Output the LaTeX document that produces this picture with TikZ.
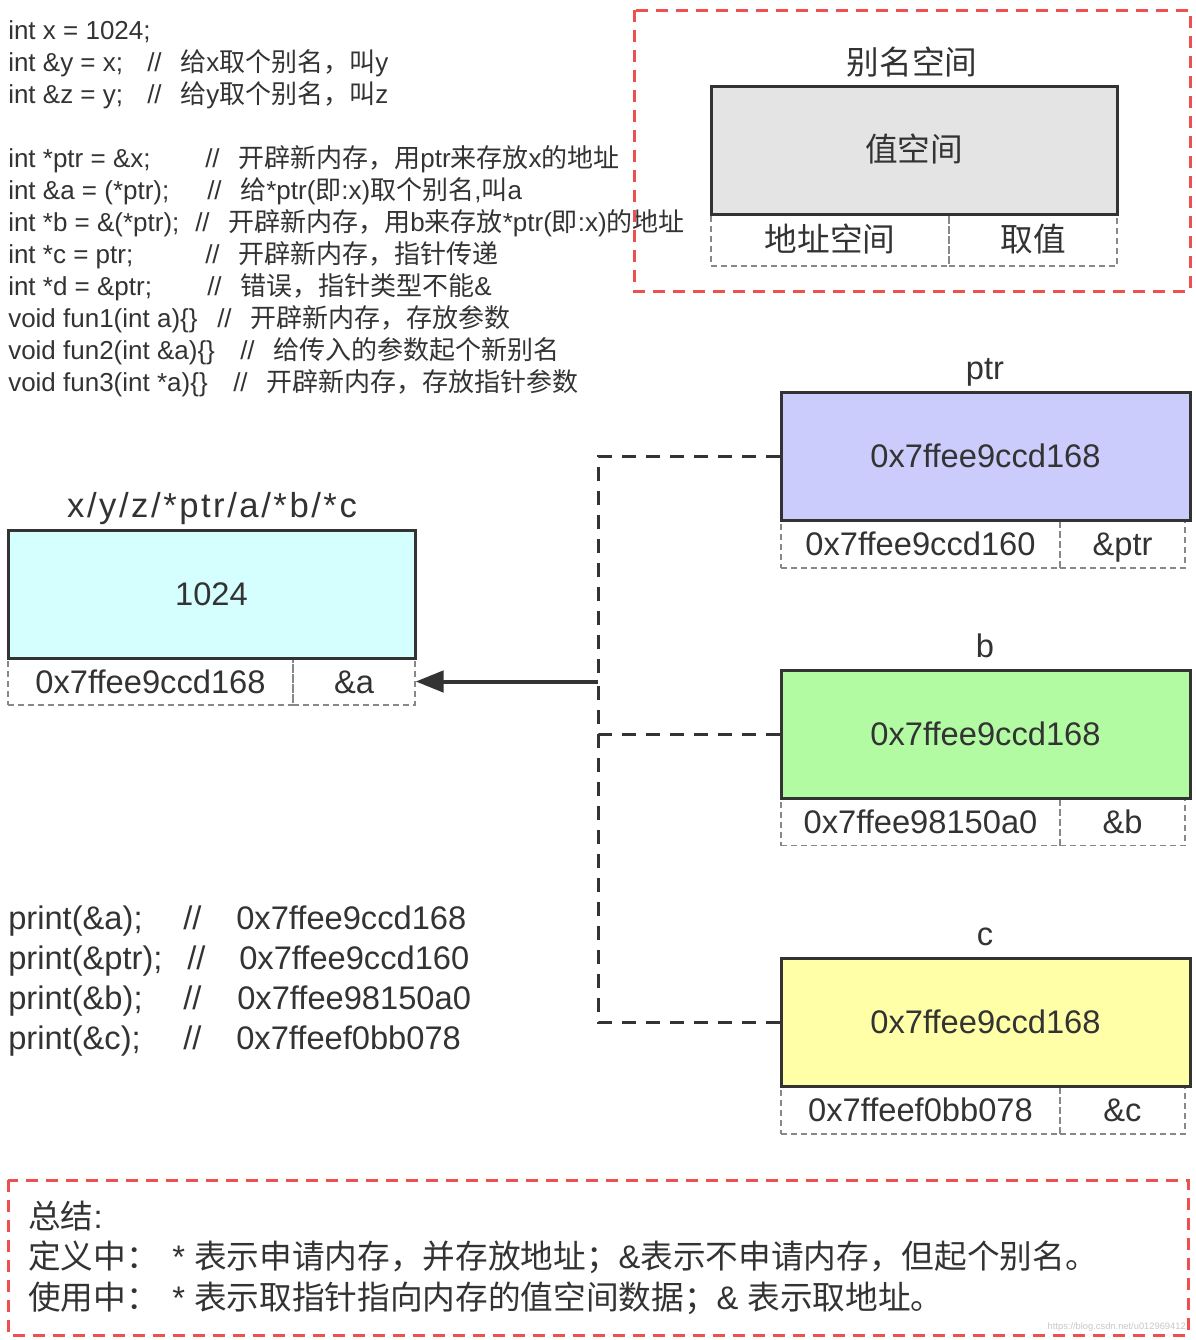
\documentclass[tikz,border=0pt]{standalone}
\usepackage{fontspec}
\setmainfont{Liberation Sans}
\newfontfamily\cjk{Noto Sans CJK SC}
\usetikzlibrary{arrows.meta}
\newcommand\cj[1]{{\cjk #1}}
\newcommand\lk{\kern1.9pt}
\definecolor{tc}{HTML}{333333}
\definecolor{redc}{HTML}{EE4F4F}
\definecolor{cellgray}{HTML}{888888}
\definecolor{graybox}{HTML}{E4E4E4}
\definecolor{cyanbox}{HTML}{D5FEFE}
\definecolor{lavbox}{HTML}{CCCCFC}
\definecolor{greenbox}{HTML}{B3FBA3}
\definecolor{yellowbox}{HTML}{FFFFA8}
\tikzset{
  txt/.style={inner sep=0pt, text=tc},
  code/.style={txt, anchor=base west, font=\fontsize{19.5}{22}\selectfont},
  big/.style={txt, font=\fontsize{24.5}{28}\selectfont},
  bigw/.style={big, anchor=base west},
  lbl/.style={big, anchor=base},
  valbox/.style={draw=tc, line width=2.25pt, inner sep=0pt, text=tc,
    font=\fontsize{24.5}{28}\selectfont, text height=17.6pt, text depth=0pt},
  cell/.style={draw=cellgray, line width=1.1pt, dash pattern=on 4.5pt off 3pt,
    inner sep=0pt, text=tc, font=\fontsize{24.5}{28}\selectfont,
    text height=17.6pt, text depth=0pt},
  reddash/.style={draw=redc, line width=2.25pt, dash pattern=on 9pt off 6pt},
  conn/.style={draw=tc, line width=2.25pt, dash pattern=on 10.5pt off 7.5pt},
  arr/.style={draw=tc, line width=3pt, -{Triangle[length=21pt,width=16pt]}},
}
\begin{document}
\begin{tikzpicture}[x=0.75pt, y=-0.75pt]
\useasboundingbox (0,0) rectangle (1196,1340);

% ---------- code lines ----------
\node[code] (c1) at (8,39) {int x = 1024;};
\node[code] (c2) at (8,71) {int \&y = x;};
\node[code] (m2) at (147,71) {//\hspace{14pt}\cj{给}x\cj{取个别名，叫}y};
\node[code] (c3) at (8,103) {int \&z = y;};
\node[code] (m3) at (147,103) {//\hspace{14pt}\cj{给}y\cj{取个别名，叫}z};
\node[code] (c5) at (8,167) {int *ptr = \&x;};
\node[code] (m5) at (205,167) {//\hspace{14pt}\cj{开辟新内存，用}ptr\cj{来存放}x\cj{的地址}};
\node[code] (c6) at (8,199) {int \&a = (*ptr);};
\node[code] (m6) at (207,199) {//\hspace{14pt}\cj{给}*ptr(\cj{即}:x)\cj{取个别名},\cj{叫}a};
\node[code] (c7) at (8,231) {int *b = \&(*ptr);};
\node[code] (m7) at (195,231) {//\hspace{14pt}\cj{开辟新内存，用}b\cj{来存放}*ptr(\cj{即}:x)\cj{的地址}};
\node[code] (c8) at (8,263) {int *c = ptr;};
\node[code] (m8) at (205,263) {//\hspace{14pt}\cj{开辟新内存，指针传递}};
\node[code] (c9) at (8,295) {int *d = \&ptr;};
\node[code] (m9) at (207,295) {//\hspace{14pt}\cj{错误，指针类型不能}\&};
\node[code] (c10) at (8,327) {void fun1(int a)\{\}};
\node[code] (m10) at (217,327) {//\hspace{14pt}\cj{开辟新内存，存放参数}};
\node[code] (c11) at (8,359) {void fun2(int \&a)\{\}};
\node[code] (m11) at (240,359) {//\hspace{14pt}\cj{给传入的参数起个新别名}};
\node[code] (c12) at (8,391) {void fun3(int *a)\{\}};
\node[code] (m12) at (233,391) {//\hspace{14pt}\cj{开辟新内存，存放指针参数}};

% ---------- legend (top right) ----------
\draw[reddash] (634,10) rectangle (1190,291);
\node[cell, minimum width=178.5pt, minimum height=39pt] (addrsp) at (830,240) {\cj{地址空间}};
\node[cell, minimum width=126pt, minimum height=39pt] (getv) at (1033,240) {\cj{取值}};
\node[valbox, fill=graybox, minimum width=304.5pt, minimum height=96pt] (valsp) at (914,150) {\cj{值空间}};
\node[lbl] (aliassp) at (912,74) {\cj{别名空间}};

% ---------- x box ----------
\node[cell, minimum width=213.75pt, minimum height=35.25pt] (xaddr) at (150.5,681.5) {0x7ffee9ccd168};
\node[cell, minimum width=91.5pt, minimum height=35.25pt] (aa) at (354,681.5) {\&a};
\node[valbox, fill=cyanbox, minimum width=305.25pt, minimum height=96pt] (xv) at (211.5,594) {1024};
\node[lbl, font=\fontsize{26}{30}\selectfont] (xlbl) at (212,517)
  {x\lk/\lk y\lk/\lk z\lk/\lk*\lk p\lk t\lk r\lk/\lk a\lk/\lk*\lk b\lk/\lk*\lk c};

% ---------- ptr box ----------
\node[cell, minimum width=209.25pt, minimum height=36pt] (paddr) at (920.5,544) {0x7ffee9ccd160};
\node[cell, minimum width=93.75pt, minimum height=36pt] (pamp) at (1122.5,544) {\&ptr};
\node[valbox, fill=lavbox, minimum width=306.75pt, minimum height=96pt] (pv) at (985.5,456) {0x7ffee9ccd168};
\node[lbl] (plbl) at (985,379) {ptr};

% ---------- b box ----------
\node[cell, minimum width=209.25pt, minimum height=36pt] (baddr) at (920.5,821.5) {0x7ffee98150a0};
\node[cell, minimum width=93.75pt, minimum height=36pt] (bamp) at (1122.5,821.5) {\&b};
\node[valbox, fill=greenbox, minimum width=306.75pt, minimum height=96pt] (bv) at (985.5,734) {0x7ffee9ccd168};
\node[lbl] (blbl) at (985,657) {b};

% ---------- c box ----------
\node[cell, minimum width=209.25pt, minimum height=36pt] (caddr) at (920.5,1110) {0x7ffeef0bb078};
\node[cell, minimum width=93.75pt, minimum height=36pt] (camp) at (1122.5,1110) {\&c};
\node[valbox, fill=yellowbox, minimum width=306.75pt, minimum height=96pt] (cv) at (985.5,1022) {0x7ffee9ccd168};
\node[lbl] (clbl) at (985,945) {c};

% ---------- connectors ----------
\coordinate (trunk) at (598,681.5);
\draw[conn] (pv.west) -| (trunk);
\draw[conn] (bv.west) -| (trunk);
\draw[conn] (cv.west) -| (trunk);
\draw[arr] (trunk) -- (aa.east);

% ---------- print lines ----------
\node[bigw] (p1) at (8,929) {print(\&a);};
\node[bigw] (s1) at (183,929) {//};
\node[bigw] (v1) at (236,929) {0x7ffee9ccd168};
\node[bigw] (p2) at (8,969) {print(\&ptr);};
\node[bigw] (s2) at (187,969) {//};
\node[bigw] (v2) at (239,969) {0x7ffee9ccd160};
\node[bigw] (p3) at (8,1009) {print(\&b);};
\node[bigw] (s3) at (183,1009) {//};
\node[bigw] (v3) at (237,1009) {0x7ffee98150a0};
\node[bigw] (p4) at (8,1049) {print(\&c);};
\node[bigw] (s4) at (183,1049) {//};
\node[bigw] (v4) at (236,1049) {0x7ffeef0bb078};

% ---------- summary ----------
\draw[reddash] (8,1180) rectangle (1188,1335);
\node[bigw] (sum0) at (28,1228) {\cj{总结}:};
\node[bigw] (sum1) at (28,1268) {\cj{定义中：}\hspace{10pt}* \cj{表示申请内存，并存放地址；}\&\cj{表示不申请内存，但起个别名。}};
\node[bigw] (sum2) at (28,1309) {\cj{使用中：}\hspace{10pt}* \cj{表示取指针指向内存的值空间数据；}\& \cj{表示取地址。}};
\node[anchor=base east, inner sep=0pt, text=black!22, font=\fontsize{7}{8}\selectfont] (wm) at (1186,1329) {https://blog.csdn.net/u012969412};
\end{tikzpicture}
\end{document}
